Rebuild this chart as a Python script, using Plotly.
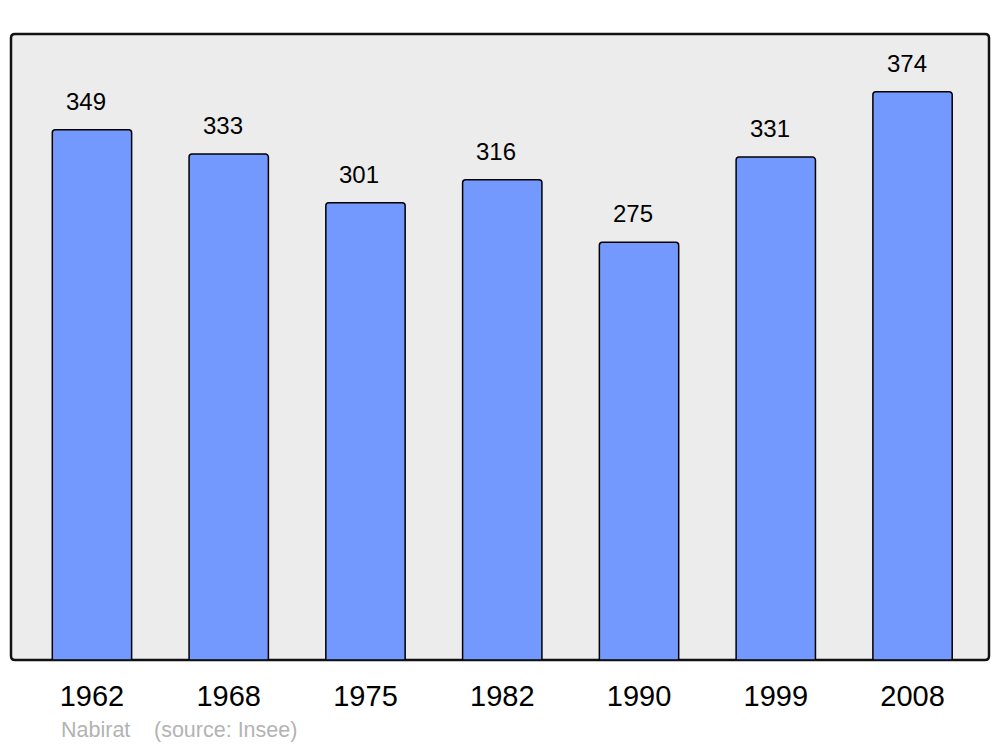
import plotly.graph_objects as go

years = ["1962", "1968", "1975", "1982", "1990", "1999", "2008"]
population = [349, 333, 301, 316, 275, 331, 374]

FONT = "Liberation Sans, Arial, sans-serif"

fig = go.Figure()

fig.add_trace(go.Bar(
    x=years,
    y=population,
    width=0.58,
    marker=dict(color="#7399ff", line=dict(color="#000000", width=1.5), cornerradius=3),
    hoverinfo="x+y",
    showlegend=False,
))

# valeurs au-dessus des barres (x = indice de la catégorie)
for i, val in enumerate(population):
    fig.add_annotation(
        x=i, y=val, text=str(val),
        showarrow=False, yanchor="bottom",
        yshift=13, xshift=-6,
        font=dict(family=FONT, size=24, color="#000000"),
    )

# cadre arrondi de la zone de tracé (coins ~4px)
rx, ry = 4 / 978, 4 / 626
frame = (
    f"M {rx},0 L {1 - rx},0 Q 1,0 1,{ry} L 1,{1 - ry} Q 1,1 {1 - rx},1 "
    f"L {rx},1 Q 0,1 0,{1 - ry} L 0,{ry} Q 0,0 {rx},0 Z"
)
fig.add_shape(
    type="path", xref="paper", yref="paper", path=frame,
    line=dict(color="#111111", width=2.5),
    fillcolor="#ececec", layer="below",
)

fig.add_annotation(
    xref="paper", yref="paper", x=0.049, y=-0.112,
    text="Nabirat", showarrow=False, xanchor="left", yanchor="middle",
    font=dict(family=FONT, size=21.5, color="#b3b3b3"),
)
fig.add_annotation(
    xref="paper", yref="paper", x=0.144, y=-0.112,
    text="(source: Insee)", showarrow=False, xanchor="left", yanchor="middle",
    font=dict(family=FONT, size=21.5, color="#b3b3b3"),
)

# la page html ajoute 8px de marge autour du graphique
fig.update_layout(
    width=992, height=739,
    margin=dict(l=3, r=11, t=26, b=87),
    paper_bgcolor="#ffffff",
    plot_bgcolor="rgba(0,0,0,0)",
    font=dict(family=FONT),
)

fig.update_xaxes(
    type="category",
    range=[-0.592, 6.559],
    showgrid=False, zeroline=False, showline=False,
    ticks="outside", ticklen=10, tickcolor="rgba(0,0,0,0)",
    tickfont=dict(family=FONT, size=29, color="#000000"),
)
fig.update_yaxes(
    range=[0, 412],
    showgrid=False, zeroline=False, showline=False,
    showticklabels=False,
)

fig.write_html("out.html")
